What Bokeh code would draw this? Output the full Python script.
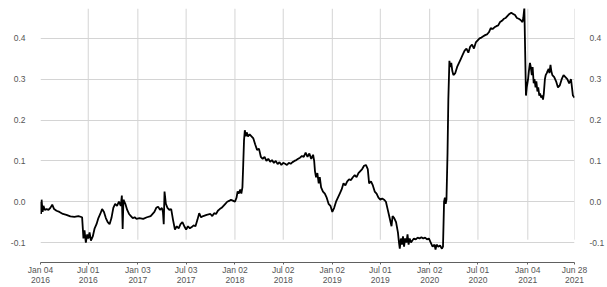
from datetime import datetime
from bokeh.plotting import figure
from bokeh.models import (Range1d, LinearAxis, FixedTicker, NumeralTickFormatter)
from bokeh.embed import file_html
from bokeh.resources import INLINE

# ---- data ----
dates = [
 "2016-01-04","2016-01-05","2016-01-06","2016-01-08","2016-01-12","2016-01-15","2016-01-20","2016-01-27",
 "2016-02-03","2016-02-10","2016-02-17","2016-02-24","2016-03-04","2016-03-15","2016-03-28","2016-04-10",
 "2016-04-25","2016-05-10","2016-05-25","2016-06-08","2016-06-13","2016-06-17","2016-06-22","2016-06-27",
 "2016-07-01","2016-07-06","2016-07-11","2016-07-18","2016-07-25","2016-08-01","2016-08-08","2016-08-15",
 "2016-08-22","2016-08-29","2016-09-05","2016-09-12","2016-09-19","2016-09-26","2016-10-03","2016-10-10",
 "2016-10-17","2016-10-24","2016-10-31","2016-11-04","2016-11-07","2016-11-10","2016-11-17","2016-11-24",
 "2016-12-01","2016-12-08","2016-12-15","2016-12-22","2016-12-29",
 "2017-01-09","2017-01-23","2017-02-06","2017-02-20","2017-03-06","2017-03-13","2017-03-20","2017-03-27",
 "2017-04-03","2017-04-07","2017-04-10","2017-04-13","2017-04-18","2017-04-24","2017-05-01","2017-05-08",
 "2017-05-15","2017-05-22","2017-05-29","2017-06-05","2017-06-12","2017-06-19","2017-06-26","2017-07-03",
 "2017-07-10","2017-07-17","2017-07-24","2017-07-31","2017-08-07","2017-08-14","2017-08-21","2017-08-28",
 "2017-09-05","2017-09-18","2017-10-02","2017-10-09","2017-10-16","2017-10-23","2017-10-30","2017-11-06",
 "2017-11-13","2017-11-20","2017-11-27","2017-12-04","2017-12-11","2017-12-18","2017-12-27",
 "2018-01-02","2018-01-08","2018-01-12","2018-01-16","2018-01-22","2018-01-26","2018-01-30","2018-02-02",
 "2018-02-05","2018-02-08","2018-02-12","2018-02-15","2018-02-20","2018-02-26","2018-03-05","2018-03-12",
 "2018-03-19","2018-03-26","2018-04-02","2018-04-09","2018-04-16","2018-04-23","2018-04-30","2018-05-07",
 "2018-05-14","2018-05-21","2018-05-28","2018-06-04","2018-06-11","2018-06-18","2018-06-25","2018-07-02",
 "2018-07-09","2018-07-16","2018-07-23","2018-07-30","2018-08-06","2018-08-13","2018-08-20","2018-08-27",
 "2018-09-03","2018-09-10","2018-09-17","2018-09-24","2018-10-01","2018-10-08","2018-10-15","2018-10-22",
 "2018-10-26","2018-10-29","2018-11-02","2018-11-07","2018-11-12","2018-11-16","2018-11-21","2018-11-28",
 "2018-12-05","2018-12-12","2018-12-19","2018-12-26",
 "2019-01-02","2019-01-09","2019-01-16","2019-01-23","2019-01-30","2019-02-06","2019-02-13","2019-02-20",
 "2019-02-27","2019-03-06","2019-03-13","2019-03-20","2019-03-27","2019-04-03","2019-04-10","2019-04-17",
 "2019-04-24","2019-05-01","2019-05-08","2019-05-15","2019-05-20","2019-05-27","2019-06-03","2019-06-10",
 "2019-06-17","2019-06-24","2019-07-01","2019-07-08","2019-07-15","2019-07-22","2019-07-29","2019-08-05",
 "2019-08-12","2019-08-16","2019-08-22","2019-08-29","2019-09-05","2019-09-09","2019-09-12","2019-09-16",
 "2019-09-20","2019-09-24","2019-09-28","2019-10-02","2019-10-07","2019-10-11","2019-10-15","2019-10-19",
 "2019-10-24","2019-10-29","2019-11-04","2019-11-11","2019-11-18","2019-11-25","2019-12-02","2019-12-09",
 "2019-12-16","2019-12-23","2019-12-30",
 "2020-01-06","2020-01-13","2020-01-20","2020-01-24","2020-01-28","2020-02-03","2020-02-10","2020-02-17",
 "2020-02-21","2020-02-25","2020-02-28","2020-03-02","2020-03-05","2020-03-09","2020-03-12","2020-03-16",
 "2020-03-19","2020-03-23","2020-03-27","2020-03-31","2020-04-07","2020-04-14","2020-04-21","2020-04-28",
 "2020-05-05","2020-05-12","2020-05-19","2020-05-26","2020-06-02","2020-06-09","2020-06-16","2020-06-23",
 "2020-06-30","2020-07-07","2020-07-14","2020-07-21","2020-07-28","2020-08-04","2020-08-11","2020-08-18",
 "2020-08-25","2020-09-01","2020-09-08","2020-09-15","2020-09-22","2020-09-29","2020-10-06","2020-10-13",
 "2020-10-20","2020-10-27","2020-11-03","2020-11-10","2020-11-17","2020-11-24","2020-12-01","2020-12-08",
 "2020-12-15","2020-12-18","2020-12-22","2020-12-28","2020-12-31",
 "2021-01-05","2021-01-08","2021-01-12","2021-01-15","2021-01-19","2021-01-22","2021-01-26","2021-01-29",
 "2021-02-02","2021-02-05","2021-02-09","2021-02-12","2021-02-16","2021-02-19","2021-02-23","2021-02-26",
 "2021-03-02","2021-03-05","2021-03-09","2021-03-12","2021-03-16","2021-03-19","2021-03-23","2021-03-26",
 "2021-03-30","2021-04-02","2021-04-06","2021-04-13","2021-04-20","2021-04-27","2021-05-04","2021-05-11",
 "2021-05-18","2021-05-25","2021-06-01","2021-06-08","2021-06-15","2021-06-22","2021-06-28",
]
values = [
 -0.02,0.0,-0.03,0.005,-0.025,-0.01,-0.02,-0.018,
 -0.02,-0.015,-0.007,-0.018,-0.022,-0.025,-0.03,-0.032,
 -0.036,-0.037,-0.035,-0.038,-0.09,-0.07,-0.1,-0.08,
 -0.09,-0.075,-0.095,-0.085,-0.065,-0.055,-0.04,-0.03,
 -0.018,-0.025,-0.04,-0.05,-0.055,-0.04,-0.015,-0.005,
 -0.01,0.0,-0.01,0.015,-0.067,0.005,-0.005,-0.02,
 -0.03,-0.035,-0.04,-0.038,-0.042,
 -0.04,-0.042,-0.038,-0.035,-0.025,-0.015,-0.012,-0.02,
 -0.015,-0.025,-0.055,0.025,-0.005,-0.015,-0.02,-0.018,
 -0.045,-0.068,-0.06,-0.065,-0.055,-0.05,-0.06,-0.068,
 -0.06,-0.065,-0.062,-0.058,-0.06,-0.045,-0.028,-0.038,
 -0.035,-0.032,-0.03,-0.035,-0.028,-0.03,-0.022,-0.018,
 -0.015,-0.01,-0.005,0.0,0.002,0.005,0.002,
 0.0,0.01,0.025,0.02,0.03,0.02,0.035,0.09,
 0.15,0.175,0.16,0.17,0.16,0.165,0.16,0.155,
 0.14,0.127,0.13,0.11,0.105,0.11,0.1,0.105,
 0.098,0.102,0.095,0.1,0.092,0.097,0.09,0.095,
 0.093,0.09,0.095,0.093,0.097,0.1,0.102,0.105,
 0.108,0.112,0.11,0.12,0.11,0.118,0.105,0.115,
 0.1,0.075,0.06,0.07,0.045,0.06,0.035,0.025,
 0.02,0.01,-0.005,-0.01,
 -0.025,-0.015,0.0,0.01,0.02,0.03,0.045,0.04,
 0.05,0.055,0.053,0.06,0.065,0.06,0.07,0.075,
 0.08,0.088,0.09,0.08,0.045,0.05,0.04,0.025,
 0.02,0.01,0.005,0.008,0.005,0.0,-0.02,-0.04,
 -0.06,-0.035,-0.04,-0.05,-0.075,-0.1,-0.115,-0.09,
 -0.105,-0.085,-0.11,-0.09,-0.1,-0.08,-0.105,-0.09,
 -0.1,-0.095,-0.09,-0.092,-0.088,-0.09,-0.087,-0.09,
 -0.088,-0.092,-0.09,
 -0.1,-0.11,-0.105,-0.117,-0.105,-0.11,-0.107,-0.115,
 -0.11,0.0,0.01,-0.005,0.005,0.12,0.25,0.345,
 0.33,0.34,0.32,0.31,0.315,0.33,0.34,0.35,
 0.36,0.37,0.375,0.365,0.38,0.385,0.375,0.39,
 0.395,0.4,0.402,0.405,0.408,0.41,0.415,0.425,
 0.423,0.427,0.43,0.432,0.44,0.443,0.448,0.45,
 0.455,0.46,0.463,0.46,0.457,0.45,0.448,0.445,
 0.44,0.45,0.475,0.26,0.28,
 0.30,0.32,0.34,0.33,0.31,0.33,0.29,0.30,
 0.28,0.295,0.27,0.28,0.26,0.265,0.255,0.26,
 0.25,0.265,0.30,0.31,0.315,0.32,0.325,0.315,
 0.335,0.32,0.31,0.305,0.295,0.28,0.285,0.30,
 0.31,0.305,0.30,0.29,0.30,0.26,0.255,
]

tick_dates = ["2016-01-04","2016-07-01","2017-01-03","2017-07-03","2018-01-02","2018-07-02",
              "2019-01-02","2019-07-01","2020-01-02","2020-07-01","2021-01-04","2021-06-28"]
tick_labels = ["Jan 04\n2016","Jul 01\n2016","Jan 03\n2017","Jul 03\n2017","Jan 02\n2018","Jul 02\n2018",
               "Jan 02\n2019","Jul 01\n2019","Jan 02\n2020","Jul 01\n2020","Jan 04\n2021","Jun 28\n2021"]
y_ticks = [-0.1, 0.0, 0.1, 0.2, 0.3, 0.4]

# ---- figure ----
def to_dt(s):
    return datetime.strptime(s, "%Y-%m-%d")

def to_ms(s):
    return (to_dt(s) - datetime(1970, 1, 1)).total_seconds() * 1000.0

x = [to_dt(d) for d in dates]
y_lo, y_hi = -0.1488, 0.4732

p = figure(width=607, height=287, x_axis_type="datetime",
           output_backend="svg", toolbar_location=None,
           x_range=Range1d(to_dt(tick_dates[0]), to_dt(tick_dates[-1])),
           y_range=Range1d(y_lo, y_hi),
           min_border_left=40, min_border_right=31, min_border_top=8, min_border_bottom=24)
p.outline_line_color = None
p.background_fill_color = "white"
p.border_fill_color = "white"

font = "Liberation Sans"
lab_color = "#555555"
grid_color = "#d4d4d4"

# y grid
p.xgrid.visible = False
p.ygrid.ticker = FixedTicker(ticks=y_ticks)
p.ygrid.grid_line_color = grid_color
p.ygrid.grid_line_width = 1

# vertical grid segments (not at left edge)
vx = [to_dt(d) for d in tick_dates[1:]]
p.segment(x0=vx, x1=vx, y0=[-0.093] * len(vx), y1=[y_hi] * len(vx),
          line_color=grid_color, line_width=1)

# data line
p.line(x=x, y=values, line_color="black", line_width=1.8)


def style_y(ax):
    ax.ticker = FixedTicker(ticks=y_ticks)
    ax.formatter = NumeralTickFormatter(format="0.0")
    ax.axis_line_color = None
    ax.major_tick_line_color = None
    ax.minor_tick_line_color = None
    ax.major_label_text_font = font
    ax.major_label_text_font_size = "8.5px"
    ax.major_label_text_color = lab_color
    ax.major_label_standoff = 9


style_y(p.yaxis[0])
ra = LinearAxis()
style_y(ra)
p.add_layout(ra, "right")

# bottom axis
xa = p.xaxis[0]
xa.ticker = FixedTicker(ticks=[to_ms(d) for d in tick_dates])
xa.major_label_overrides = {to_ms(d): l for d, l in zip(tick_dates, tick_labels)}
xa.axis_line_color = "#606060"
xa.major_tick_line_color = "#606060"
xa.major_tick_out = 2
xa.major_tick_in = 0
xa.minor_tick_line_color = None
xa.major_label_text_font = font
xa.major_label_text_font_size = "8.5px"
xa.major_label_text_line_height = 1.0
xa.major_label_text_color = lab_color
xa.major_label_standoff = 0

open("out.html", "w").write(file_html(p, INLINE))
